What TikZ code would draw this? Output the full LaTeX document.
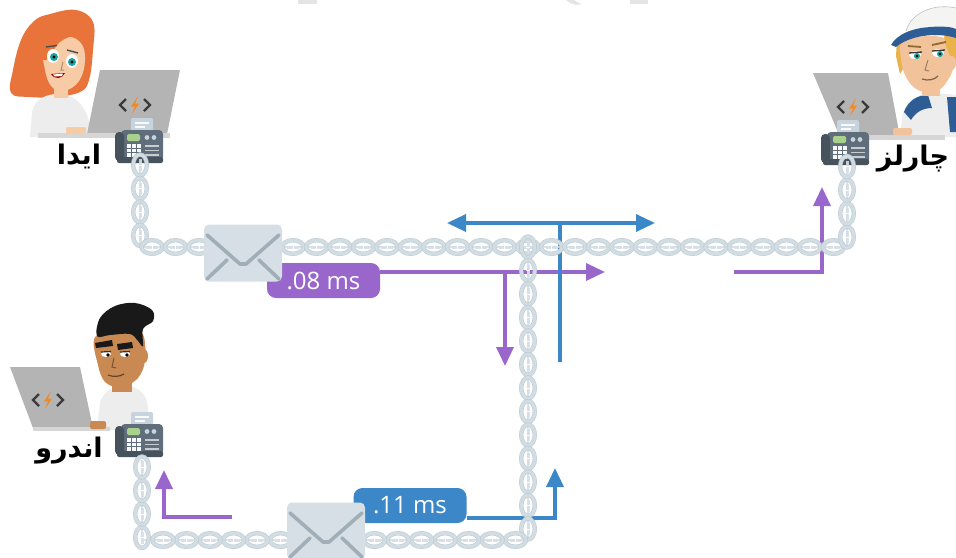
\documentclass[tikz,border=0pt]{standalone}
\usepackage{fontspec}
\setmainfont{Open Sans}
\newfontfamily\arabicfont[Script=Arabic]{DejaVu Sans}
\usetikzlibrary{arrows.meta,decorations.markings}
\TeXXeTstate=1

\definecolor{purp}{HTML}{9966CC}
\definecolor{blu}{HTML}{3B87C7}
\definecolor{chainc}{HTML}{D5DFE5}
\definecolor{chaind}{HTML}{BCCAD2}
\definecolor{envbody}{HTML}{D6DFE6}
\definecolor{envline}{HTML}{A0AEB7}
\definecolor{screengray}{HTML}{B4B4B4}
\definecolor{basegray}{HTML}{D6D6D6}
\definecolor{icondark}{HTML}{3A3A3A}
\definecolor{bolt}{HTML}{F08A24}
\definecolor{hairor}{HTML}{E8743B}
\definecolor{skinA}{HTML}{F7CBA5}
\definecolor{skinC}{HTML}{F2C29B}
\definecolor{skinB}{HTML}{C88A52}
\definecolor{capblue}{HTML}{2E5D95}
\definecolor{capwhite}{HTML}{F4F4F2}
\definecolor{blond}{HTML}{E9B24B}
\definecolor{iris}{HTML}{1BA39C}
\definecolor{shirt}{HTML}{EDEDED}
\definecolor{faxbody}{HTML}{5F6E7A}
\definecolor{faxdark}{HTML}{46525C}
\definecolor{faxpaper}{HTML}{C7D4DD}
\definecolor{faxscreen}{HTML}{A9D18E}
\definecolor{wmark}{HTML}{E4E4E4}

\tikzset{
  chainpath/.style={draw=chainc, line width=2.4pt,
    postaction={decorate},
    decoration={markings, mark=between positions 0 and 1 step 23.5pt with {
      \draw[chaind, line width=4.4pt] (0,0) ellipse [x radius=10.5pt, y radius=6.8pt];
      \draw[chainc, line width=3pt] (0,0) ellipse [x radius=10.5pt, y radius=6.8pt];
      \draw[chainc, line width=3pt] (-6pt,0) -- (6pt,0);
      \draw[white, line width=0.9pt] (0,-2.4pt) -- (0,2.4pt);
    }}},
  tip/.style={Triangle[length=19pt,width=17pt]},
  purparrow/.style={draw=purp, line width=3.4pt, -{Triangle[length=19pt,width=17pt]}},
  bluarrow/.style={draw=blu, line width=3.4pt, -{Triangle[length=19pt,width=17pt]}},
  bluline/.style={draw=blu, line width=3.4pt},
  lab/.style={rounded corners=9pt, text=white, minimum width=113pt,
    minimum height=35pt, inner sep=0pt, font=\fontsize{24}{24}\selectfont},
  person/.style={font=\arabicfont\bfseries\fontsize{27}{27}\selectfont, text=black, inner sep=0pt},
  fax/.pic={
    \fill[faxpaper, rounded corners=2pt] (-8,-23) rectangle (14,-6);
    \draw[white!85!faxpaper, line width=1.2pt] (-4,-18) -- (10,-18) (-4,-14) -- (6,-14);
    \fill[faxbody, rounded corners=4pt] (-18,-11) rectangle (24,20);
    \fill[faxdark, rounded corners=4pt] (-24,-9) rectangle (-15,20);
    \fill[faxdark, rounded corners=2pt] (-22,16) rectangle (24,22);
    \fill[faxscreen, rounded corners=1.5pt] (-12,-7) rectangle (1,0);
    \fill[faxpaper] (8,-3.5) circle (2.4pt) (15,-3.5) circle (2.4pt);
    \foreach \i in {-10,-5,0} \foreach \j in {5,9.5,14}
      \fill[white!85!faxpaper] (\i-1.6,\j-1.6) rectangle (\i+1.6,\j+1.6);
    \draw[white!65!faxbody, line width=1.2pt] (6,5) -- (20,5) (6,9.5) -- (20,9.5) (6,14) -- (20,14);
  },
  codeicon/.pic={
    \draw[icondark, line width=2.2pt] (-9,-6) -- (-15,0) -- (-9,6);
    \draw[icondark, line width=2.2pt] (9,-6) -- (15,0) -- (9,6);
    \fill[bolt] (3,-9) -- (-4,1.5) -- (0,1.5) -- (-3,9) -- (4,-1.5) -- (0,-1.5) -- cycle;
  },
  envelope/.pic={
    \fill[envbody, rounded corners=5pt] (-39,-28.5) rectangle (39,28.5);
    \draw[envline, line width=3.6pt, line cap=round, line join=round]
      (-36,-18) -- (-3,11) -- (3,11) -- (36,-18);
    \draw[envline, line width=3.6pt, line cap=round] (-36,26) -- (-16,7);
    \draw[envline, line width=3.6pt, line cap=round] (36,26) -- (16,7);
  }
}

\begin{document}
\begin{tikzpicture}[x=1pt,y=-1pt]
\useasboundingbox (0,0) rectangle (956,557);

% faint marks along the top edge
\fill[wmark] (298,0) rectangle (317,4);
\fill[wmark] (566,0) -- (574,0) .. controls (576,2) and (579,3) .. (582,4) -- (576,5) .. controls (572,4) and (568,2) .. cycle;
\fill[wmark] (630,0) rectangle (648,4);

% ---------- Ida ----------
\fill[hairor] plot[smooth cycle, tension=0.65] coordinates
  {(50,14) (76,10) (93,22) (93,50) (89,80) (80,92) (55,97) (30,97) (11,93) (13,70) (21,40) (34,21)};
\fill[shirt] (30,137) -- (32,112) .. controls (35,99) and (46,94) .. (58,94)
  .. controls (72,94) and (82,101) .. (88,118) -- (92,137) -- cycle;
\fill[skinA] (54,80) rectangle (68,98);
\fill[skinA] plot[smooth cycle, tension=0.7] coordinates
  {(44,45) (62,36) (80,42) (85,60) (79,81) (64,91) (52,87) (45,70)};
\fill[hairor] plot[smooth cycle, tension=0.6] coordinates
  {(40,52) (48,30) (70,20) (90,26) (88,44) (76,36) (60,42) (46,60)};
\fill[white] (53,56) ellipse [x radius=6pt, y radius=7pt];
\fill[white] (72,61) ellipse [x radius=6pt, y radius=7pt];
\fill[iris] (54,57) circle (4pt);
\fill[iris] (72,62) circle (4pt);
\fill[black] (54,57) circle (1.6pt);
\fill[black] (72,62) circle (1.6pt);
\draw[black!70, line width=1.4pt] (46,47) -- (57,45.5);
\draw[black!70, line width=1.4pt] (67,50) -- (78,53);
\draw[skinA!70!black, line width=1pt] (63,62) -- (61,70) -- (64,70);
\fill[red!60!black] (51,74) .. controls (55,80) and (62,79) .. (65,73) -- cycle;
\fill[white] (53,74.5) -- (63,73.5) -- (62,76) -- (55,76.5) -- cycle;
% laptop
\fill[screengray] (100,70) -- (180,70) -- (167,134) -- (87,134) -- cycle;
\fill[basegray] (38,133) rectangle (170,138);
\fill[skinA, rounded corners=2pt] (66,127) rectangle (86,134);
\pic at (135,105) {codeicon};
\pic at (139,141) {fax};
\node[person] (ida) at (79,156) {\beginR ايدا\endR};

% ---------- Charles ----------
\fill[shirt] (900,137) -- (903,112) .. controls (908,99) and (920,93) .. (935,93) -- (956,95) -- (956,137) -- cycle;
\fill[capblue] (904,112) .. controls (908,101) and (917,95) .. (928,95) -- (932,108)
  .. controls (922,108) and (915,113) .. (911,120) -- cycle;
\fill[capblue] (947,97) -- (956,97) -- (956,132) -- (950,132) -- cycle;
\fill[skinC] (922,78) rectangle (940,96);
\fill[blond] (897,40) -- (911,40) -- (907,62) -- (900,74) -- (896,56) -- cycle;
\fill[skinC] plot[smooth cycle, tension=0.7] coordinates
  {(903,42) (930,36) (950,42) (954,62) (948,80) (935,92) (918,90) (906,77) (901,58)};
\fill[blond] (944,36) -- (956,36) -- (956,62) -- (950,56) -- (946,46) -- cycle;
\fill[skinC] (952,63) ellipse [x radius=4pt, y radius=7pt];
\fill[capwhite] (906,31) .. controls (911,14) and (930,5) .. (950,7) -- (956,8) -- (956,31)
  .. controls (945,27) and (925,26) .. (906,31) -- cycle;
\draw[black!25, line width=0.6pt] (906,31) .. controls (911,14) and (930,5) .. (950,7) -- (956,8);
\fill[capblue] (930,27) .. controls (944,26) and (952,27) .. (956,29) -- (956,38)
  .. controls (950,36) and (942,35) .. (934,35) -- cycle;
\fill[capblue] (891,45) .. controls (897,34) and (914,27) .. (934,27) -- (936,35)
  .. controls (919,35) and (904,40) .. (896,47) -- cycle;
\fill[white] (915,55) ellipse [x radius=6pt, y radius=4pt];
\fill[white] (938,53) ellipse [x radius=6pt, y radius=4pt];
\fill[iris] (917,56) circle (3pt);
\fill[iris] (940,54) circle (3pt);
\fill[black] (917,56) circle (1.3pt);
\fill[black] (940,54) circle (1.3pt);
\draw[black!80, line width=1.3pt] (909,53) -- (922,52);
\draw[black!80, line width=1.3pt] (932,51) -- (945,50);
\draw[blond!60!black, line width=1.8pt] (908,46) -- (921,47);
\draw[blond!60!black, line width=1.8pt] (932,45) -- (946,42);
\draw[skinC!65!black, line width=1pt] (928,60) -- (925,70) -- (929,71);
\draw[skinC!50!black, line width=1.2pt] (922,79) .. controls (928,81) and (934,80) .. (938,76);
% laptop
\fill[screengray] (813,73) -- (888,73) -- (900,137) -- (840,137) -- cycle;
\fill[basegray] (840,135) rectangle (945,140);
\fill[skinC, rounded corners=2pt] (893,128) rectangle (912,135);
\pic at (853,107) {codeicon};
\pic at (845,143) {fax};
\node[person] (charles) at (913,159) {\beginR چارلز\endR};

% ---------- Andrew ----------
\fill[shirt] (97,430) -- (100,402) .. controls (105,389) and (115,386) .. (125,386)
  .. controls (140,386) and (148,396) .. (148,410) -- (150,430) -- cycle;
\fill[skinB] (112,372) rectangle (132,392);
\fill[skinB] plot[smooth cycle, tension=0.5] coordinates
  {(96,336) (140,331) (145,360) (138,378) (121,388) (105,382) (98,365)};
\fill[skinB] (144,356) ellipse [x radius=4pt, y radius=7pt];
\fill[black!90] plot[smooth cycle, tension=0.6] coordinates
  {(97,336) (100,318) (115,306) (135,303) (152,310) (153,321) (143,329) (143,346) (138,341) (130,334) (110,335)};
\fill[black!90] (95,343) -- (112,340) -- (113,346) -- (96,348) -- cycle;
\fill[black!90] (117,344) -- (132,342) -- (133,348) -- (118,350) -- cycle;
\fill[white] (106,354) ellipse [x radius=5pt, y radius=3pt];
\fill[white] (125,354) ellipse [x radius=5pt, y radius=3pt];
\fill[black] (108,355) circle (1.8pt);
\fill[black] (127,355) circle (1.8pt);
\draw[black!80, line width=1.2pt] (101,352) -- (111,351.5);
\draw[black!80, line width=1.2pt] (120,352) -- (130,351.5);
\draw[skinB!60!black, line width=1pt] (114,358) -- (112,367) -- (116,368);
\draw[skinB!50!black, line width=1.2pt] (108,375) .. controls (113,377) and (119,377) .. (124,374);
% laptop
\fill[screengray] (10,367) -- (80,367) -- (93,428) -- (33,428) -- cycle;
\fill[basegray] (33,427) rectangle (110,431);
\fill[skinB, rounded corners=2pt] (90,421) rectangle (106,429);
\pic at (48,400) {codeicon};
\pic at (139,435) {fax};
\node[person] (andrew) at (69,451) {\beginR اندرو\endR};

% ---------- timing arrows ----------
\coordinate (pA) at (605,272);
\coordinate (pB0) at (505,272);
\coordinate (pB1) at (505,366);
\coordinate (pC0) at (734,272);
\coordinate (pC1) at (822,272);
\coordinate (pC2) at (822,187);
\coordinate (pD0) at (232,517);
\coordinate (pD1) at (164,517);
\coordinate (pD2) at (164,470);
\coordinate (bA) at (555,518);
\coordinate (bA2) at (555,468);
\coordinate (bL) at (447,223);
\coordinate (bR) at (655,223);
\coordinate (bT) at (560,223);
\coordinate (bB) at (560,362);

\node[lab, fill=purp] (t08) at (323.5,280.5) {.08 ms};
\node[lab, fill=blu] (t11) at (410,505.5) {.11 ms};

\draw[purparrow] (t08.east |- pA) -- (pA);
\draw[purparrow] (pB0) -- (pB1);
\draw[purparrow] (pC0) -- (pC1) -- (pC2);
\draw[purparrow] (pD0) -- (pD1) -- (pD2);
\draw[bluarrow] (t11.east |- bA) -- (bA) -- (bA2);
\draw[draw=blu, line width=3.4pt, {Triangle[length=19pt,width=17pt]}-{Triangle[length=19pt,width=17pt]}] (bL) -- (bR);
\draw[bluline] (bT) -- (bB);

% ---------- chains ----------
\coordinate (idaTop) at (140,165);
\coordinate (idaCorner) at (140,247);
\coordinate (chaCorner) at (847,247);
\coordinate (chaTop) at (847,166);
\coordinate (tee) at (528,247);
\coordinate (teeBottom) at (528,540);
\coordinate (andCorner) at (142,540);
\coordinate (andTop) at (142,460);
\begin{scope}[opacity=0.9]
\path[chainpath] (idaTop) -- (idaCorner) -- (chaCorner) -- (chaTop);
\path[chainpath] (tee) -- (teeBottom) -- (andCorner) -- (andTop);
\end{scope}

% ---------- messages ----------
\pic at (243,253) {envelope};
\pic at (326,531) {envelope};
\end{tikzpicture}
\end{document}
